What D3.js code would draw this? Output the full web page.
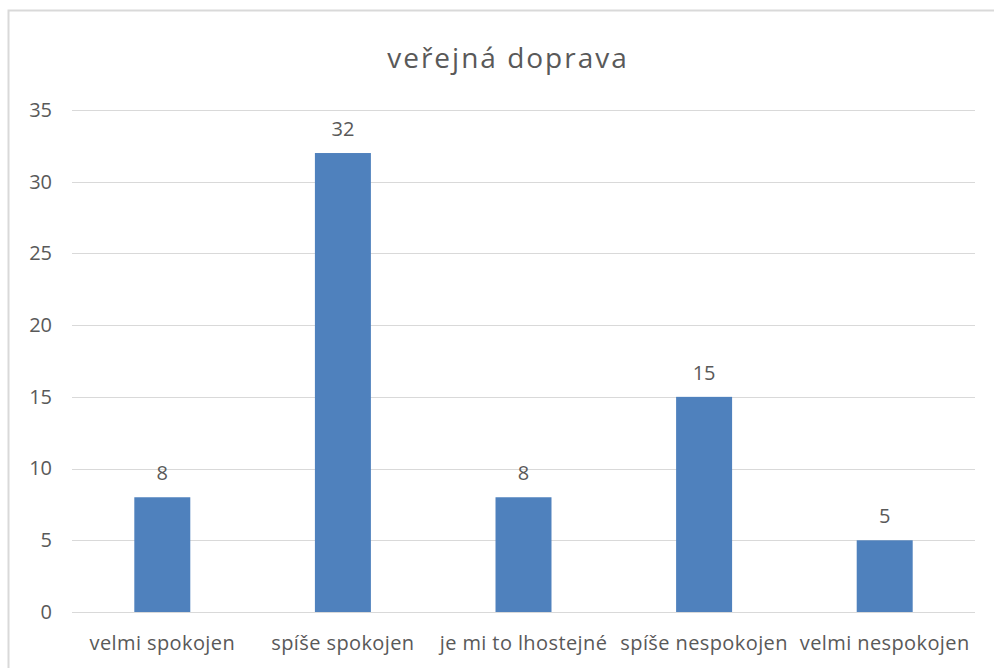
<!DOCTYPE html>
<html>
<head>
<meta charset="utf-8">
<script src="https://cdn.jsdelivr.net/npm/d3@7"></script>
<style>
  body { margin: 0; background: #fff; }
  text { font-family: "Open Sans", Lato, sans-serif; fill: #595959; }
</style>
</head>
<body>
<script>
        var categories = ["velmi spokojen", "spíše spokojen", "je mi to lhostejné", "spíše nespokojen", "velmi nespokojen"];
        var values = [8, 32, 8, 15, 5];
        var yTicks = [0, 5, 10, 15, 20, 25, 30, 35];
        var chartTitle = "veřejná doprava";

        var width = 994, height = 668;
        var margin = {top: 110, right: 19, bottom: 56, left: 72};

        var svg = d3.select("body").append("svg")
            .attr("width", width)
            .attr("height", height);

        // chart frame
        svg.append("rect")
            .attr("x", 8.5).attr("y", 10.5)
            .attr("width", 1000).attr("height", 700)
            .attr("fill", "none")
            .attr("stroke", "#d9d9d9")
            .attr("stroke-width", 2);

        svg.append("text")
            .attr("x", 508).attr("y", 68)
            .attr("text-anchor", "middle")
            .style("font-size", "28px")
            .style("letter-spacing", "2px")
            .text(chartTitle);

        var x = d3.scaleBand()
            .domain(categories)
            .range([margin.left, width - margin.right])
            .paddingInner(0.69)
            .paddingOuter(0.345);

        var y = d3.scaleLinear()
            .domain([0, 35])
            .range([height - margin.bottom, margin.top]);

        var grid = svg.append("g");
        grid.selectAll("line")
            .data(yTicks)
            .enter()
                .append("line")
                .attr("x1", margin.left)
                .attr("x2", width - margin.right)
                .attr("y1", function(d) { return Math.round(y(d)) + 0.5; })
                .attr("y2", function(d) { return Math.round(y(d)) + 0.5; })
                .attr("stroke", "#d9d9d9")
                .attr("stroke-width", 1.2);

        var yAxis = svg.append("g")
            .attr("transform", "translate(" + margin.left + ",0)")
            .call(d3.axisLeft(y).tickValues(yTicks).tickSize(0).tickPadding(20));
        yAxis.select(".domain").remove();
        yAxis.selectAll("text")
            .style("font-size", "20px")
            .attr("fill", "#595959");

        svg.selectAll("rect.bar")
            .data(values)
            .enter()
                .append("rect")
                .attr("class", "bar")
                .attr("x", function(d, i) { return x(categories[i]); })
                .attr("width", x.bandwidth())
                .attr("y", function(d) { return y(d); })
                .attr("height", function(d) { return y(0) - y(d); })
                .attr("fill", "#4f81bd");

        svg.selectAll("text.val")
            .data(values)
            .enter()
                .append("text")
                .attr("class", "val")
                .attr("x", function(d, i) { return x(categories[i]) + x.bandwidth() / 2; })
                .attr("y", function(d) { return y(d) - 17; })
                .attr("text-anchor", "middle")
                .style("font-size", "20px")
                .text(function(d) { return d; });

        var xAxis = svg.append("g")
            .attr("transform", "translate(0," + y(0) + ")")
            .call(d3.axisBottom(x).tickSize(0).tickPadding(24));
        xAxis.select(".domain").remove();
        xAxis.selectAll("text")
            .style("font-size", "20px")
            .style("letter-spacing", "0.4px")
            .attr("fill", "#595959");
</script>
</body>
</html>
